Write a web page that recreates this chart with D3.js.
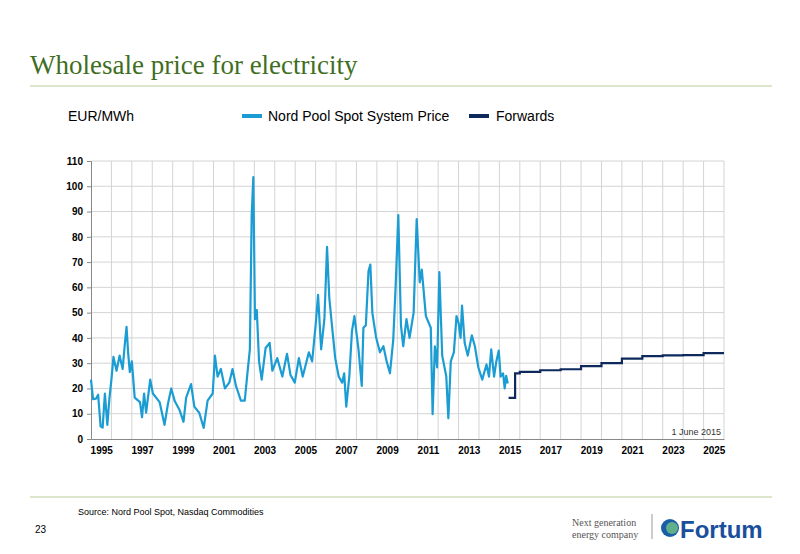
<!DOCTYPE html>
<html><head><meta charset="utf-8">
<script src="https://cdnjs.cloudflare.com/ajax/libs/d3/7.8.5/d3.min.js"></script>
<style>body{margin:0;background:#fff}svg{display:block}</style>
</head><body>
<svg id="c" width="800" height="554"></svg>
<script>
const spotDates = [1995.0,1995.1,1995.25,1995.35,1995.47,1995.57,1995.68,1995.8,1995.9,1996.0,1996.1,1996.25,1996.4,1996.55,1996.65,1996.74,1996.82,1996.9,1997.0,1997.14,1997.4,1997.5,1997.6,1997.7,1997.9,1998.03,1998.36,1998.6,1998.77,1998.93,1999.1,1999.33,1999.53,1999.66,1999.9,2000.06,2000.3,2000.52,2000.71,2000.96,2001.07,2001.2,2001.36,2001.56,2001.77,2001.93,2002.1,2002.34,2002.53,2002.66,2002.78,2002.87,2002.95,2003.03,2003.12,2003.23,2003.36,2003.55,2003.75,2003.88,2004.12,2004.37,2004.6,2004.77,2004.98,2005.18,2005.37,2005.67,2005.83,2006.0,2006.12,2006.27,2006.43,2006.56,2006.67,2006.8,2006.96,2007.13,2007.3,2007.4,2007.5,2007.65,2007.78,2007.9,2008.1,2008.26,2008.34,2008.46,2008.59,2008.68,2008.78,2008.96,2009.15,2009.32,2009.48,2009.64,2009.8,2009.92,2010.05,2010.18,2010.29,2010.45,2010.6,2010.8,2010.95,2011.1,2011.2,2011.4,2011.64,2011.73,2011.84,2011.95,2012.06,2012.2,2012.4,2012.5,2012.62,2012.77,2012.9,2013.0,2013.1,2013.17,2013.3,2013.45,2013.65,2013.8,2013.97,2014.16,2014.37,2014.49,2014.6,2014.74,2014.85,2014.97,2015.06,2015.18,2015.26,2015.33,2015.41];
const spotValues = [23.5,15.8,16,17.5,5,4.5,18,5.6,16,23.5,32.5,27,33,27.7,37,44.4,34,26.5,30.7,16.4,14.6,8.6,18,10.4,23.5,18,14.6,5.6,14,20,15,11.6,6.8,16.4,21.7,12.8,10.4,4.4,15.2,18,33,24.7,27.7,20,22.3,27.7,21,15.2,15.2,26,35.5,88.6,103.6,47.4,51,30.7,23.5,36,38,27,32,24.7,33.7,25.3,22.3,32,24.7,34.3,30.7,45,57,35.5,47.4,76,55.8,45,32,24.7,22.3,26,12.8,24.7,42.7,48.6,35.5,21,44,45,66.5,69,49.8,40.3,34.3,36.7,30.7,26,39,60.6,88.6,45,36.7,47.4,40,50,87,62,67,48.6,44,9.8,36.7,28.3,66,33,24.7,8.2,30.7,34.3,48.6,46,40,52.8,38,33,41,36.7,28.3,23.5,29.5,24.7,35.5,24.7,30.7,35,24.7,26,20,25,22];
const fwdDates = [2015.45,2015.77,2016,2017,2018,2019,2020,2021,2022,2023,2024,2025,2026];
const fwdValues = [16.3,26,26.6,27.2,27.6,28.8,30,31.8,32.8,33.1,33.2,34,34];
const yTicks = [0,10,20,30,40,50,60,70,80,90,100,110];
const xLabels = [1995,1997,1999,2001,2003,2005,2007,2009,2011,2013,2015,2017,2019,2021,2023,2025];

const svg = d3.select("#c");
const x = d3.scaleLinear().domain([1995,2026]).range([91,724]);
const y = d3.scaleLinear().domain([0,110]).range([439,161]);

svg.append("text").attr("x",30).attr("y",74).attr("font-family","Liberation Serif, serif")
  .attr("font-size",27).attr("fill","#3f6e22").text("Wholesale price for electricity");
svg.append("line").attr("x1",30).attr("x2",772).attr("y1",86).attr("y2",86).attr("stroke","#b5cf96").attr("stroke-width",1);
svg.append("line").attr("x1",30).attr("x2",772).attr("y1",497).attr("y2",497).attr("stroke","#b5cf96").attr("stroke-width",1);

// grid
const g = svg.append("g");
g.selectAll(".vg").data(d3.range(1996,2027)).join("line")
  .attr("x1",d=>x(d)).attr("x2",d=>x(d)).attr("y1",y(110)).attr("y2",y(0))
  .attr("stroke","#d4d4d4").attr("stroke-width",1);
g.selectAll(".hg").data(yTicks.slice(1)).join("line")
  .attr("x1",x(1995)).attr("x2",x(2026)).attr("y1",d=>y(d)).attr("y2",d=>y(d))
  .attr("stroke","#d4d4d4").attr("stroke-width",1);

// axes
const ya = svg.append("g").attr("transform",`translate(${x(1995)},0)`)
  .call(d3.axisLeft(y).tickValues(yTicks).tickSize(4).tickPadding(4));
ya.select(".domain").attr("stroke","#888");
ya.selectAll("line").attr("stroke","#888");
ya.selectAll("text").attr("font-family","Liberation Sans, Arial").attr("font-size",10).attr("font-weight","bold").attr("fill","#000");
const xa = svg.append("g").attr("transform",`translate(0,${y(0)})`)
  .call(d3.axisBottom(x).tickValues(xLabels.map(d=>d+0.5)).tickFormat(d=>Math.floor(d)).tickSize(0).tickPadding(8));
xa.select(".domain").attr("stroke","#888");
xa.selectAll("text").attr("font-family","Liberation Sans, Arial").attr("font-size",10).attr("font-weight","bold").attr("fill","#000");

// lines
const spot = spotDates.map((d,i)=>[d,spotValues[i]]);
const fwd = fwdDates.map((d,i)=>[d,fwdValues[i]]);
svg.append("path").datum(spot).attr("fill","none").attr("stroke","#1b9dd3").attr("stroke-width",2.2)
  .attr("stroke-linejoin","round").attr("d",d3.line().x(d=>x(d[0])).y(d=>y(d[1])));
svg.append("path").datum(fwd).attr("fill","none").attr("stroke","#0e2a5c").attr("stroke-width",2.2)
  .attr("d",d3.line().curve(d3.curveStepAfter).x(d=>x(d[0])).y(d=>y(d[1])));

svg.append("text").attr("x",721).attr("y",435).attr("text-anchor","end").attr("font-family","Liberation Sans, Arial")
  .attr("font-size",9).attr("fill","#333").text("1 June 2015");

// legend
const lf = "Liberation Sans, Arial";
svg.append("text").attr("x",68).attr("y",121).attr("font-family",lf).attr("font-size",14).text("EUR/MWh");
svg.append("line").attr("x1",242).attr("x2",262).attr("y1",116).attr("y2",116).attr("stroke","#1b9dd3").attr("stroke-width",4);
svg.append("text").attr("x",268).attr("y",121).attr("font-family",lf).attr("font-size",14).text("Nord Pool Spot System Price");
svg.append("line").attr("x1",469).attr("x2",489).attr("y1",116).attr("y2",116).attr("stroke","#0e2a5c").attr("stroke-width",4);
svg.append("text").attr("x",496).attr("y",121).attr("font-family",lf).attr("font-size",14).text("Forwards");

svg.append("text").attr("x",78).attr("y",515).attr("font-family",lf).attr("font-size",9).text("Source: Nord Pool Spot, Nasdaq Commodities");
svg.append("text").attr("x",35).attr("y",533).attr("font-family",lf).attr("font-size",10).text("23");

// logo
svg.append("text").attr("x",572).attr("y",526).attr("font-family","Liberation Serif, serif").attr("font-size",10).attr("fill","#555").text("Next generation");
svg.append("text").attr("x",572).attr("y",538).attr("font-family","Liberation Serif, serif").attr("font-size",10).attr("fill","#555").text("energy company");
svg.append("line").attr("x1",652).attr("x2",652).attr("y1",514).attr("y2",539).attr("stroke","#999");
svg.append("circle").attr("cx",670).attr("cy",528).attr("r",9).attr("fill","#1a5ea8");
svg.append("circle").attr("cx",672).attr("cy",528).attr("r",6).attr("fill","#5fb08a");
svg.append("text").attr("x",680).attr("y",538).attr("font-family","Liberation Sans, Arial").attr("font-weight","bold")
  .attr("font-size",24).attr("fill","#1a4f9c").text("Fortum");
</script>
</body></html>
